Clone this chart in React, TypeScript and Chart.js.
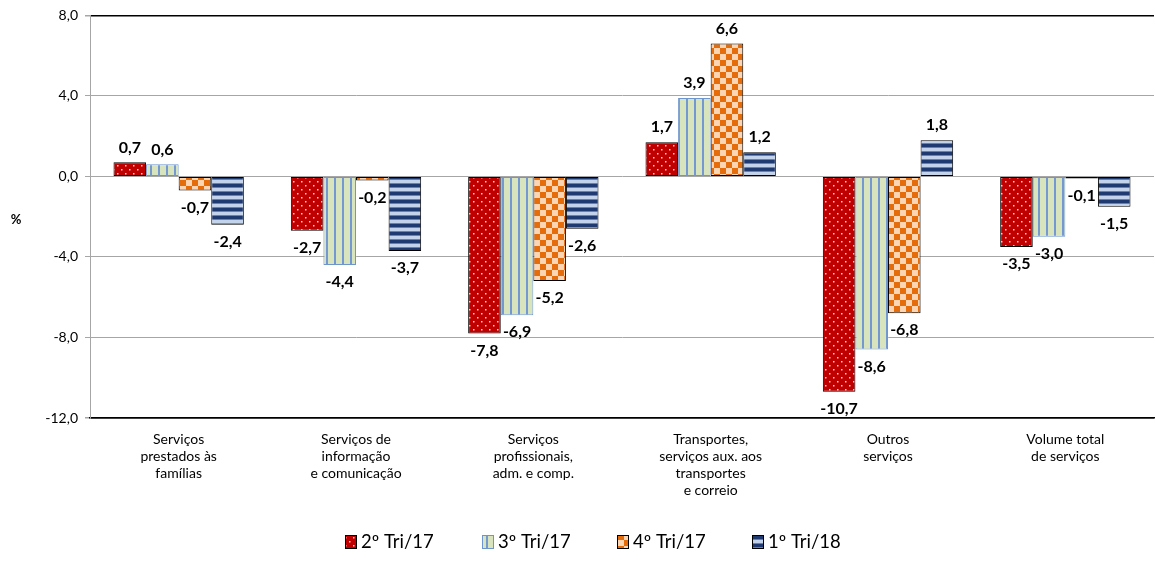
import React, { useEffect, useRef } from "react";
import { Chart, registerables } from "chart.js";

Chart.register(...registerables);

const categories: string[][] = [
  ["Serviços", "prestados às", "famílias"],
  ["Serviços de", "informação", "e comunicação"],
  ["Serviços", "profissionais,", "adm. e comp."],
  ["Transportes,", "serviços aux. aos", "transportes", "e correio"],
  ["Outros", "serviços"],
  ["Volume total", "de serviços"],
];

const seriesNames = ["2º Tri/17", "3º Tri/17", "4º Tri/17", "1º Tri/18"];
const tri2_17 = [0.7, -2.7, -7.8, 1.7, -10.7, -3.5];
const tri3_17 = [0.6, -4.4, -6.9, 3.9, -8.6, -3.0];
const tri4_17 = [-0.7, -0.2, -5.2, 6.6, -6.8, -0.1];
const tri1_18 = [-2.4, -3.7, -2.6, 1.2, 1.8, -1.5];

const yMin = -12;
const yMax = 8;
const yStep = 4;

const FONT = "Lato, 'Open Sans', sans-serif";

function makePattern(kind: string): CanvasPattern | string {
  const c = document.createElement("canvas");
  const ctx = c.getContext("2d")!;
  if (kind === "red") {
    c.width = 8; c.height = 8;
    ctx.fillStyle = "#C00000"; ctx.fillRect(0, 0, 8, 8);
    ctx.fillStyle = "#F4CCCC";
    ctx.fillRect(1, 1, 1.5, 1.5);
    ctx.fillRect(5, 5, 1.5, 1.5);
  } else if (kind === "green") {
    c.width = 8; c.height = 8;
    ctx.fillStyle = "#D8E4BD"; ctx.fillRect(0, 0, 8, 8);
    ctx.fillStyle = "#7399D0"; ctx.fillRect(6, 0, 2, 8);
  } else if (kind === "orange") {
    c.width = 12; c.height = 12;
    ctx.fillStyle = "#FCD5B4"; ctx.fillRect(0, 0, 12, 12);
    ctx.fillStyle = "#E46C0A";
    ctx.fillRect(0, 0, 6, 6);
    ctx.fillRect(6, 6, 6, 6);
  } else {
    c.width = 8; c.height = 8;
    ctx.fillStyle = "#C3D3EC"; ctx.fillRect(0, 0, 8, 8);
    ctx.fillStyle = "#1F3A70"; ctx.fillRect(0, 0, 8, 3);
    ctx.fillStyle = "#5F82BC"; ctx.fillRect(0, 3, 8, 1); ctx.fillRect(0, 7, 8, 1);
  }
  return ctx.createPattern(c, "repeat") || "#999";
}

const fmt = (v: number) => v.toFixed(1).replace(".", ",");

export default function App() {
  const ref = useRef<HTMLCanvasElement | null>(null);

  useEffect(() => {
    if (!ref.current) return;
    const pRed = makePattern("red");
    const pGreen = makePattern("green");
    const pOrange = makePattern("orange");
    const pBlue = makePattern("blue");

    const values = [tri2_17, tri3_17, tri4_17, tri1_18];
    const fills = [pRed, pGreen, pOrange, pBlue];
    const borders = ["#000000", "#6F95CF", "#000000", "#000000"];

    const datasets = values.map((d, i) => ({
      label: seriesNames[i],
      data: d,
      backgroundColor: fills[i] as any,
      borderColor: borders[i],
      borderWidth: 1,
      borderSkipped: false as any,
      categoryPercentage: 0.735,
      barPercentage: 1.0,
    }));

    const labelPlugin = {
      id: "barLabels",
      afterDatasetsDraw(chart: any) {
        const ctx = chart.ctx;
        ctx.save();
        ctx.font = `bold 16px ${FONT}`;
        ctx.fillStyle = "#000";
        ctx.textAlign = "center";
        ctx.textBaseline = "middle";
        chart.data.datasets.forEach((ds: any, di: number) => {
          const meta = chart.getDatasetMeta(di);
          meta.data.forEach((el: any, i: number) => {
            const v = ds.data[i];
            const y = v >= 0 ? el.y - 15 : el.y + 17;
            ctx.fillText(fmt(v), el.x, y);
          });
        });
        ctx.restore();
      },
    };

    const extrasPlugin = {
      id: "extras",
      afterDraw(chart: any) {
        const ctx = chart.ctx;
        ctx.save();
        ctx.font = `bold 13px ${FONT}`;
        ctx.fillStyle = "#000";
        ctx.textAlign = "center";
        ctx.textBaseline = "middle";
        ctx.fillText("%", 16, 220);
        ctx.font = `18.5px ${FONT}`;
        ctx.textAlign = "left";
        const starts = [345, 482, 617, 752];
        const ly = 541;
        chart.data.datasets.forEach((ds: any, i: number) => {
          const x = starts[i];
          ctx.fillStyle = ds.backgroundColor;
          ctx.fillRect(x, ly - 6, 11, 13);
          ctx.strokeStyle = ds.borderColor;
          ctx.lineWidth = 1;
          ctx.strokeRect(x + 0.5, ly - 5.5, 11, 13);
          ctx.fillStyle = "#000";
          ctx.fillText(ds.label, x + 16, ly + 1);
        });
        ctx.restore();
      },
    };

    const chart = new Chart(ref.current, {
      type: "bar",
      data: { labels: categories as any, datasets },
      options: {
        animation: false,
        responsive: false,
        maintainAspectRatio: false,
        layout: { padding: { top: 15, left: 0, right: 1, bottom: 0 } },
        plugins: {
          legend: { display: false },
          tooltip: { enabled: false },
        },
        scales: {
          x: {
            grid: { display: false, drawTicks: false },
            border: { display: true, color: "#000000", width: 1.5 },
            ticks: {
              color: "#000",
              font: { family: FONT, size: 14, lineHeight: 1.22 },
              maxRotation: 0,
              autoSkip: false,
              padding: 13,
            },
            afterFit(scale: any) {
              scale.height = 143;
            },
          },
          y: {
            min: yMin,
            max: yMax,
            ticks: {
              stepSize: yStep,
              color: "#000",
              font: { family: FONT, size: 14 },
              padding: 7,
              callback: (v: any) => fmt(Number(v)),
            },
            grid: {
              color: (c: any) =>
                c.tick && (c.tick.value === yMax || c.tick.value === yMin) ? "#000000" : "#A6A6A6",
              lineWidth: (c: any) =>
                c.tick && (c.tick.value === yMax || c.tick.value === yMin) ? 1.5 : 1,
              tickLength: 5,
              tickColor: "#A6A6A6",
            },
            border: { display: true, color: "#A6A6A6", width: 1 },
            afterFit(scale: any) {
              scale.width = 90;
            },
          },
        },
      },
      plugins: [labelPlugin, extrasPlugin],
    });
    return () => chart.destroy();
  }, []);

  return (
    <div style={{ position: "absolute", left: 0, top: 0, width: 1155, height: 561, background: "#fff" }}>
      <canvas ref={ref} width={1155} height={561} style={{ width: 1155, height: 561 }} />
    </div>
  );
}
